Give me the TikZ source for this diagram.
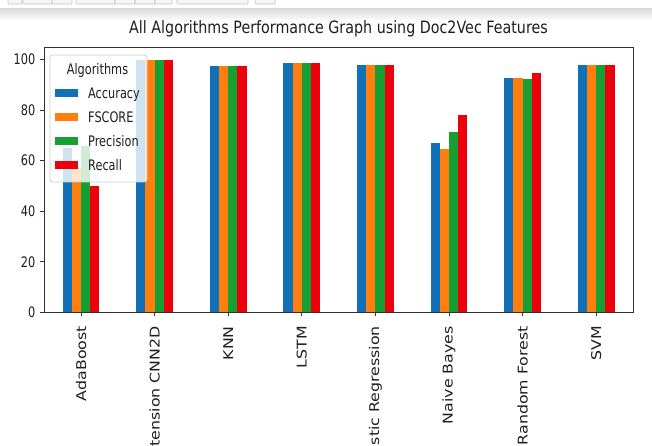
\documentclass[tikz,border=0pt]{standalone}
\usepackage{fontspec}
\setmainfont{DejaVu Sans}
\definecolor{cA}{RGB}{18,113,182}
\definecolor{cF}{RGB}{255,127,14}
\definecolor{cP}{RGB}{22,160,52}
\definecolor{cR}{RGB}{236,0,12}
\definecolor{txt}{RGB}{30,30,30}
\newcommand{\hsq}[1]{\scalebox{0.78}[1]{#1}}
\newcommand{\vsq}[1]{\scalebox{1}[0.85]{#1}}
\tikzset{
  tickfont/.style={font=\fontsize{14.5}{17}\selectfont, text=txt, inner sep=0pt},
  rotfont/.style={font=\fontsize{15.8}{18}\selectfont, text=txt, inner sep=0pt},
  spine/.style={line width=0.9pt, draw=black!80},
  tickline/.style={line width=0.8pt, draw=black!80},
  toolbox/.style={draw=black!25, fill=black!3, line width=0.6pt, rounded corners=1pt}
}
\begin{document}
\begin{tikzpicture}[x=1pt,y=1pt]
\useasboundingbox (0,0) rectangle (652,446);
\clip (0,0) rectangle (652,446);
\fill[white] (0,0) rectangle (652,446);
% toolbar remnants
\foreach \xa/\xb in {8/22,23/52,52/72,76/115,115/135,135/155,155/172,177/248,255/275}
  \draw[toolbox] (\xa,449) rectangle (\xb,442);
\shade[top color=black!14, bottom color=white] (0,437) rectangle (652,425);
% bars
\foreach \i/\a/\f/\p/\r in {0/65/57/66/50,1/99.7/99.7/100/99.7,2/97.5/97.5/97.5/97.5,3/98.7/98.7/98.7/98.7,4/97.9/97.9/97.9/97.9,5/67/64.6/71.5/78.1,6/92.8/92.8/92.2/94.8,7/98/98/98/98}{
  \pgfmathsetmacro\c{81+73.6*\i}
  \fill[cA] (\c-18.4,133.7) rectangle (\c-9.2,133.7+2.527*\a);
  \fill[cF] (\c-9.2,133.7) rectangle (\c,133.7+2.527*\f);
  \fill[cP] (\c,133.7) rectangle (\c+9.2,133.7+2.527*\p);
  \fill[cR] (\c+9.2,133.7) rectangle (\c+18.4,133.7+2.527*\r);
}
% axes frame
\coordinate (ll) at (44,133.7);
\coordinate (ur) at (633,398.7);
\draw[spine] (ll) rectangle (ur);
% y ticks
\foreach \v in {0,20,40,60,80,100}{
  \pgfmathsetmacro\yy{133.7+2.527*\v}
  \coordinate (ytk\v) at (44,\yy);
  \draw[tickline] (ytk\v) -- ++(-4,0);
  \node[tickfont, anchor=east] (ytl\v) at (35.5,\yy) {\hsq{\v}};
}
% x ticks
\foreach \i/\lab in {0/AdaBoost,1/Extension CNN2D,2/KNN,3/LSTM,4/Logistic Regression,5/Naive Bayes,6/Random Forest,7/SVM}{
  \pgfmathsetmacro\c{81+73.6*\i}
  \coordinate (xtk\i) at (\c,133.7);
  \draw[tickline] (xtk\i) -- ++(0,-4);
  \node[rotfont, rotate=90, anchor=east] (xtl\i) at (\c,120) {\vsq{\lab}};
}
% title
\node[font=\fontsize{17}{20}\selectfont, text=txt, inner sep=0pt, anchor=base] (title) at (338.5,412) {\scalebox{0.84}[1]{All Algorithms Performance Graph using Doc2Vec Features}};
% legend
\draw[fill=white, fill opacity=0.8, draw=black!20, line width=0.7pt, rounded corners=2.5pt] (50,391) rectangle (147,264) node[coordinate] (legbox) {};
\node[tickfont, anchor=base] (legtitle) at (97.5,371.5) {\hsq{Algorithms}};
\foreach \k/\col/\lab/\yy in {a/cA/Accuracy/353,f/cF/FSCORE/329,p/cP/Precision/305,r/cR/Recall/281}{
  \fill[\col] (55,\yy-4.2) rectangle (78,\yy+4.2);
  \node[tickfont, anchor=base west] (leg\k) at (88,\yy-5.2) {\hsq{\lab}};
}
\end{tikzpicture}
\end{document}
